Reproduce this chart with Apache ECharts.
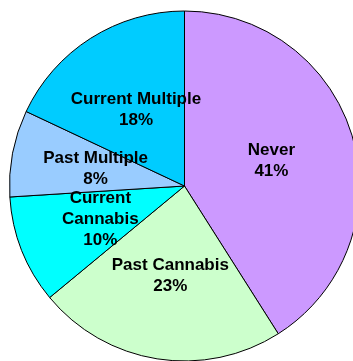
<!DOCTYPE html>
<html>
<head>
<meta charset="utf-8">
<script src="https://cdn.jsdelivr.net/npm/echarts@6/dist/echarts.min.js"></script>
<style>
  html, body { margin: 0; padding: 0; background: #fff; }
  #chart { width: 353px; height: 361px; }
</style>
</head>
<body>
<div id="chart"></div>
<script>
// Cannabis / multiple drug use categories and their shares (%)
const categories = ['Never', 'Past Cannabis', 'Current\nCannabis', 'Past Multiple', 'Current Multiple'];
const shares = [41, 23, 10, 8, 18];
const sliceColors = ['#CC99FF', '#CCFFCC', '#00FFFF', '#99CCFF', '#00CCFF'];

const chart = echarts.init(document.getElementById('chart'), null, { renderer: 'canvas' });

chart.setOption({
  animation: false,
  series: [{
    type: 'pie',
    center: [184.5, 186],
    radius: 175,
    startAngle: 90,
    clockwise: true,
    avoidLabelOverlap: false,
    data: categories.map((name, i) => ({
      name,
      value: shares[i],
      itemStyle: { color: sliceColors[i] }
    })),
    itemStyle: { borderColor: '#000', borderWidth: 1 },
    label: {
      show: true,
      position: 'inside',
      formatter: p => p.name + '\n' + p.value + '%',
      fontFamily: 'Liberation Sans, Arial, sans-serif',
      fontWeight: 'bold',
      fontSize: 17,
      lineHeight: 21,
      color: '#000'
    },
    labelLayout: { hideOverlap: false },
    labelLine: { show: false },
    emphasis: { disabled: true }
  }]
});
</script>
</body>
</html>
